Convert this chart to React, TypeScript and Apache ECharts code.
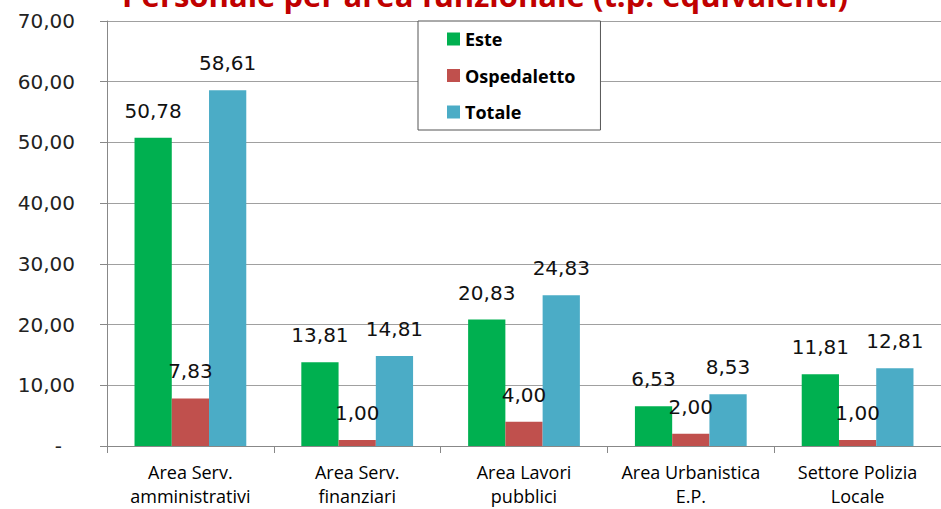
import React, { useEffect, useRef } from "react";
import * as echarts from "echarts";

const titleText = "Personale per area funzionale (t.p. equivalenti)";
const categories = [
  "Area Serv.\namministrativi",
  "Area Serv.\nfinanziari",
  "Area Lavori\npubblici",
  "Area Urbanistica\nE.P.",
  "Settore Polizia\nLocale",
];
const seriesNames = ["Este", "Ospedaletto", "Totale"];
const esteValues = [50.78, 13.81, 20.83, 6.53, 11.81];
const ospedalettoValues = [7.83, 1.0, 4.0, 2.0, 1.0];
const totaleValues = [58.61, 14.81, 24.83, 8.53, 12.81];
const colors = ["#00B050", "#C0504D", "#4BACC6"];

const fmt = (v: number) => v.toFixed(2).replace(".", ",");

export default function App() {
  const ref = useRef<HTMLDivElement>(null);
  useEffect(() => {
    if (!ref.current) return;
    const chart = echarts.init(ref.current, undefined, { renderer: "svg" });
    const valueFont = "'DejaVu Sans', Verdana, sans-serif";
    const catFont = "'Open Sans', 'Liberation Sans', sans-serif";
    const makeSeries = (name: string, data: number[], color: string) => ({
      name,
      type: "bar",
      data,
      barGap: "0%",
      barCategoryGap: "33%",
      itemStyle: { color },
      label: {
        show: true,
        position: "top",
        distance: 17,
        color: "#111",
        fontFamily: valueFont,
        fontSize: 20,
        formatter: (p: any) => fmt(p.value),
      },
    });
    chart.setOption({
      animation: false,
      backgroundColor: "#ffffff",
      graphic: [
        {
          type: "text",
          x: 485,
          y: -5,
          z: 10,
          style: {
            text: titleText,
            fill: "#C00000",
            font: "bold 31px 'Open Sans', sans-serif",
            x: 0,
            y: 0,
            align: "center",
            verticalAlign: "middle",
          },
        },
      ],
      legend: {
        orient: "vertical",
        left: 418,
        top: 21,
        padding: [8, 25, 8, 29],
        itemGap: 16.5,
        itemWidth: 13,
        itemHeight: 13,
        icon: "rect",
        backgroundColor: "#ffffff",
        borderColor: "#555555",
        borderWidth: 1,
        data: seriesNames,
        textStyle: {
          fontFamily: catFont,
          fontWeight: "bold",
          fontSize: 18,
          lineHeight: 20,
          color: "#000",
        },
      },
      grid: {
        left: 107,
        top: 21,
        width: 839,
        height: 425,
        containLabel: false,
      },
      xAxis: {
        type: "category",
        data: categories,
        boundaryGap: true,
        axisLine: { lineStyle: { color: "#888888", width: 1 } },
        axisTick: { show: true, length: 7, alignWithLabel: false, lineStyle: { color: "#888888" } },
        axisLabel: {
          interval: 0,
          margin: 14,
          color: "#000",
          fontFamily: catFont,
          fontSize: 18,
          lineHeight: 24,
        },
        splitLine: { show: false },
      },
      yAxis: {
        type: "value",
        min: 0,
        max: 70,
        interval: 10,
        axisLine: { show: true, lineStyle: { color: "#888888", width: 1 } },
        axisTick: { show: true, length: 7, lineStyle: { color: "#888888" } },
        splitLine: { show: true, lineStyle: { color: "#a0a0a0", width: 1 } },
        axisLabel: {
          margin: 32,
          color: "#222",
          fontFamily: valueFont,
          fontSize: 20,
          formatter: (v: number) => (v === 0 ? "{d|-}" : fmt(v)),
          rich: {
            d: { fontFamily: valueFont, fontSize: 20, color: "#222", padding: [0, 13, 0, 0] },
          },
        },
      },
      series: [
        makeSeries(seriesNames[0], esteValues, colors[0]),
        makeSeries(seriesNames[1], ospedalettoValues, colors[1]),
        makeSeries(seriesNames[2], totaleValues, colors[2]),
      ],
    });
    return () => chart.dispose();
  }, []);
  return (
    <div
      ref={ref}
      style={{ position: "fixed", left: 0, top: 0, width: 941, height: 509, background: "#fff" }}
    />
  );
}
